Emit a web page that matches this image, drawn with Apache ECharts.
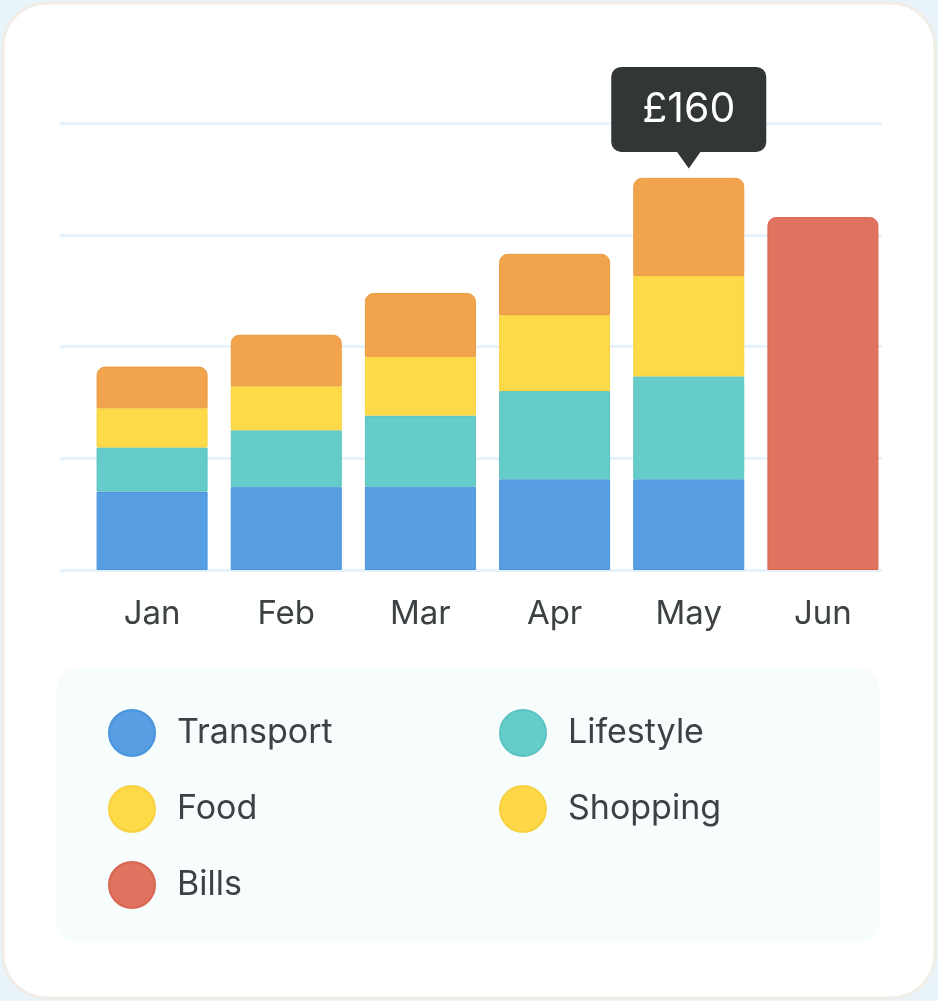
<!DOCTYPE html>
<html><head><meta charset="utf-8">
<script src="https://cdn.jsdelivr.net/npm/echarts@6/dist/echarts.min.js"></script>
<style>html,body{margin:0;padding:0;background:#E9F3FA;}#c{width:938px;height:1001px;}</style>
</head><body><div id="c"></div>
<script>
const months = ['Jan', 'Feb', 'Mar', 'Apr', 'May', 'Jun'];
const transport = [32, 34, 34, 37, 37, null];
const lifestyle = [18, 23, 29, 36, 42, null];
const food = [16, 18, 24, 31, 41, null];
const shopping = [17, 21, 26, 25, 40, null];
const bills = [null, null, null, null, null, 144];
const highlightMonth = 'May';
const currency = '£';
const yMax = 182.4;
const yInterval = 45.6;

const FONT = 'Inter';
const TEXT = '#3c4143';
const hi = months.indexOf(highlightMonth);
const hiTotal = [transport, lifestyle, food, shopping].reduce((s, a) => s + (a[hi] || 0), 0);

const chart = echarts.init(document.getElementById('c'), null, {renderer: 'canvas'});

function barSeries(name, data, color, border, top) {
  return {
    name, type: 'bar', stack: 'total', data, barWidth: 111,
    xAxisIndex: 0, yAxisIndex: 0,
    itemStyle: {color, borderColor: border, borderWidth: 1, borderRadius: top ? [8, 8, 0, 0] : 0}
  };
}

const shoppingData = shopping.map((v, i) => i === hi ? {
  value: v,
  label: {
    show: true, position: 'top', distance: 26,
    formatter: currency + hiTotal,
    backgroundColor: '#333636', color: '#ffffff',
    fontSize: 41, fontFamily: FONT, lineHeight: 43,
    padding: [21, 31], borderRadius: 10
  }
} : v);

const sShopping = barSeries('Shopping', shoppingData, '#F1A44B', '#EA9A40', true);
sShopping.markPoint = {
  symbol: 'triangle', symbolRotate: 180, symbolSize: [24, 17], symbolOffset: [0, -18],
  itemStyle: {color: '#333636'}, label: {show: false}, silent: true,
  data: [{coord: [highlightMonth, hiTotal]}]
};

const legendCommon = {
  orient: 'vertical', icon: 'circle', itemWidth: 46, itemHeight: 46, itemGap: 28,
  padding: 0, selectedMode: false,
  textStyle: {fontSize: 34, color: TEXT, fontFamily: FONT, padding: [0, 0, 0, 17]}
};

chart.setOption({
  animation: false,
  graphic: [
    {type: 'rect', z: -10, shape: {x: 3, y: 3, width: 932, height: 995, r: 44},
     style: {fill: '#ffffff', stroke: '#EFEDE6', lineWidth: 3}},
    {type: 'rect', z: -10, shape: {x: 57, y: 669, width: 822, height: 273, r: 18},
     style: {fill: '#F7FCFD'}}
  ],
  grid: [
    {left: 85, right: 48, top: 123, bottom: 431},
    {left: 60, right: 56, top: 123, bottom: 431}
  ],
  xAxis: [
    {type: 'category', gridIndex: 0, data: months,
     axisLine: {show: false}, axisTick: {show: false},
     axisLabel: {fontSize: 33, color: TEXT, fontFamily: FONT, margin: 28}},
    {type: 'value', gridIndex: 1, show: false, min: 0, max: 1}
  ],
  yAxis: [
    {type: 'value', gridIndex: 0, min: 0, max: yMax, interval: yInterval,
     axisLabel: {show: false}, axisLine: {show: false}, axisTick: {show: false},
     splitLine: {show: false}},
    {type: 'value', gridIndex: 1, min: 0, max: yMax, interval: yInterval,
     axisLabel: {show: false}, axisLine: {show: false}, axisTick: {show: false},
     splitLine: {show: true, lineStyle: {color: '#E6F2FC', width: 3}}}
  ],
  legend: [
    Object.assign({}, legendCommon, {left: 108, top: 709,
      data: [{name: 'Transport'}, {name: 'Food'}, {name: 'Bills'}]}),
    Object.assign({}, legendCommon, {left: 499, top: 709,
      data: [{name: 'Lifestyle'}, {name: 'Shopping', itemStyle: {color: '#FFD84A', borderColor: '#F8D23E'}}]})
  ],
  series: [
    barSeries('Transport', transport, '#579FE2', '#4A94DE', false),
    barSeries('Lifestyle', lifestyle, '#66CCC9', '#5CC3C0', false),
    barSeries('Food', food, '#FFDA48', '#F8D23E', false),
    sShopping,
    barSeries('Bills', bills, '#DF735F', '#D8664F', true)
  ]
});
</script>
</body></html>
